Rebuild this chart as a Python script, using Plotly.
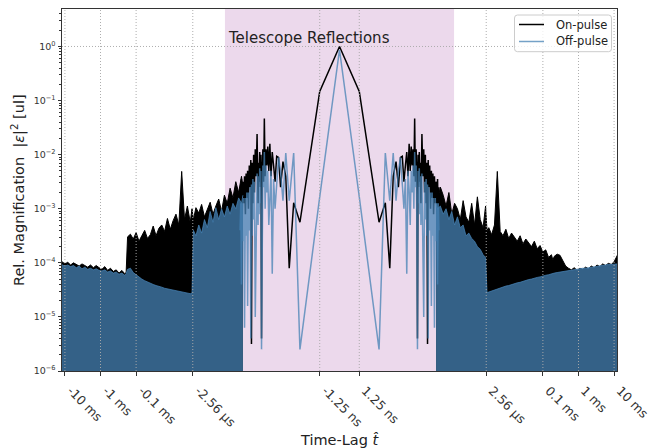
import numpy as np
import plotly.graph_objects as go

# ---------------- data ----------------
SAMPLE_NS = 1.25                     # lag sample spacing [ns]
LINTHRESH = 2.5e-9                    # symlog linear threshold [s]
LINSCALE_ADJ = 1.0 / (1.0 - 0.1)      # symlog linscale=1, base 10

# tick positions (seconds) and labels
tick_times = [-10e-3, -1e-3, -0.1e-3, -2.56e-6, -1.25e-9, 1.25e-9, 2.56e-6, 0.1e-3, 1e-3, 10e-3]
tick_labels = ["-10 ms", "-1 ms", "-0.1 ms", "-2.56 µs", "-1.25 ns", "1.25 ns", "2.56 µs", "0.1 ms", "1 ms", "10 ms"]
reflection_span = [-320e-9, 320e-9]
series_names = ["On-pulse", "Off-pulse"]

# central (sparse) region: sample index k and log10 magnitude (symmetric in lag)
center_k = [0, 1, 2, 3, 4, 5, 6, 7, 8, 9, 10, 11, 12, 13, 14, 15, 16, 17, 18, 19, 20,
            21, 22, 23, 24, 25, 26, 27, 28, 29, 30, 32, 34, 36, 38, 40, 42, 44, 46, 48, 50,
            53, 56, 59, 62, 65, 68, 72, 76, 80, 84, 88, 92, 96]
on_center_log = [0.0, -0.83, -3.25, -2.89, -4.1, -2.4, -2.13, -2.6, -2.05, -2.03, -2.5, -2.2, -1.95, -2.4, -1.8,
                 -2.3, -1.85, -2.2, -1.9, -2.4, -1.33,
                 -2.5, -1.9, -2.3, -5.4, -2.0, -2.6, -1.95, -2.5, -2.15, -2.9, -1.62, -2.4, -1.9, -2.7, -2.0,
                 -2.9, -2.15, -5.5, -2.1, -2.6,
                 -2.2, -3.0, -2.3, -2.8, -2.35, -3.1, -2.4, -2.9, -2.5, -3.1, -2.45, -3.2, -2.6]
off_center_log = [-0.06, -2.78, -5.6, -1.97, -2.85, -1.97, -2.85, -2.3, -2.05, -2.55, -3.0, -2.45, -4.2, -2.3, -2.65,
                  -3.3, -2.3, -2.7, -2.2, -3.0, -1.95,
                  -2.6, -2.2, -3.2, -5.6, -2.3, -2.9, -2.25, -3.1, -2.4, -3.3, -2.35, -3.4, -5.0, -2.5, -3.2,
                  -2.45, -3.5, -2.55, -5.4, -2.6,
                  -3.4, -2.7, -4.8, -2.7, -3.5, -2.8, -5.2, -2.8, -3.6, -2.9, -4.4, -2.9, -3.4]

# dense region: log10 |lag| [s] (outward from centre) and upper envelope log10 magnitude
dense_lag_log10 = [-7.00, -6.96, -6.88, -6.80, -6.72, -6.64, -6.56, -6.48, -6.40, -6.32, -6.24, -6.16, -6.08,
                   -6.00, -5.92, -5.84, -5.76, -5.68, -5.61, -5.57, -5.52, -5.44, -5.36, -5.28, -5.20, -5.12,
                   -5.04, -4.96, -4.88, -4.80, -4.72, -4.64, -4.56, -4.48, -4.40, -4.32, -4.24, -4.16, -4.08,
                   -4.00, -3.92, -3.84, -3.76, -3.72, -3.68, -3.60, -3.52, -3.44, -3.36, -3.28, -3.20, -3.12,
                   -3.04, -2.96, -2.88, -2.80, -2.72, -2.64, -2.56, -2.48, -2.40, -2.32, -2.24, -2.16, -2.08,
                   -2.00, -1.90]
on_left_log = [-2.6, -2.4, -2.7, -2.5, -2.8, -2.62, -2.9, -2.75, -3.05, -2.82, -2.95, -3.1, -2.88,
               -3.0, -3.15, -2.92, -3.08, -2.98, -3.2,
               -3.0, -3.25, -2.95, -3.2, -2.31, -3.3, -3.1, -3.22, -3.38, -3.18, -3.42, -3.3, -3.36,
               -3.5, -3.32, -3.48, -3.55, -3.4, -3.5, -3.6, -3.44, -3.56, -3.47, -3.52,
               -4.18, -4.2, -4.14, -4.19, -4.13, -4.16, -4.1, -4.14, -4.07, -4.12, -4.09, -4.05, -4.09,
               -4.04, -4.08, -4.05, -4.02, -4.06, -4.03, -4.0, -4.04, -3.99, -4.02, -3.97]
off_left_log = [-2.75, -2.9, -2.8, -3.0, -2.9, -3.1, -2.95, -3.15, -3.0, -3.2, -2.98, -3.25, -3.05,
                -3.35, -3.2, -3.45, -3.3, -3.5, -3.4, -4.56, -4.57, -4.56, -4.55, -4.54, -4.53, -4.52,
                -4.5, -4.5, -4.48, -4.47, -4.45, -4.44, -4.42, -4.4, -4.38, -4.36, -4.33, -4.3, -4.26,
                -4.22, -4.18, -4.1, -4.12, -4.2, -4.23, -4.19, -4.21, -4.17, -4.19, -4.15, -4.17, -4.13,
                -4.15, -4.14, -4.11, -4.13, -4.1, -4.12, -4.08, -4.11, -4.06, -4.09, -4.05, -4.07, -4.04,
                -4.06, -4.03]
on_right_log = [-2.5, -2.85, -2.6, -2.75, -2.95, -2.7, -3.1, -2.9, -3.0, -3.2, -2.85, -3.15, -3.25,
                -2.9, -3.3, -2.78, -3.2, -3.35, -2.95,
                -3.4, -3.35, -3.48, -3.3, -2.31, -3.42, -3.5, -3.38, -3.55, -3.45, -3.52, -3.6, -3.5,
                -3.65, -3.56, -3.62, -3.7, -3.6, -3.74, -3.68, -3.8, -3.76, -3.9, -3.85, -3.95, -3.88,
                -3.84, -3.86, -3.97,
                -4.06, -4.1, -4.13, -4.09, -4.14, -4.1, -4.12, -4.08, -4.11, -4.06, -4.09, -4.04, -4.07,
                -4.02, -4.05, -4.01, -4.03, -3.98, -3.85]
off_right_log = [-2.9, -3.0, -2.95, -3.1, -3.0, -3.2, -3.05, -3.3, -3.15, -3.35, -3.3, -3.5, -3.45,
                 -3.55, -3.6, -3.7, -3.75, -3.85, -3.9, -4.55, -4.54, -4.52, -4.5, -4.48, -4.46, -4.45,
                 -4.43, -4.42, -4.4, -4.39, -4.37, -4.36, -4.34, -4.33, -4.31, -4.3, -4.28, -4.27, -4.26,
                 -4.24, -4.23, -4.22, -4.2, -4.2, -4.19, -4.18, -4.17, -4.16, -4.15, -4.14, -4.13, -4.12,
                 -4.12, -4.11, -4.1, -4.1, -4.09, -4.08, -4.07, -4.06, -4.06, -4.05, -4.04, -4.03, -4.03,
                 -4.02, -4.02]

y_tick_exps = [0, -1, -2, -3, -4, -5, -6]

# ---------------- helpers ----------------
def symlog(t):
    t = np.asarray(t, dtype=float)
    a = np.abs(t)
    lin = t / LINTHRESH * LINSCALE_ADJ
    lg = np.sign(t) * (LINSCALE_ADJ + np.log10(np.maximum(a, LINTHRESH) / LINTHRESH))
    return np.where(a <= LINTHRESH, lin, lg)

ON_COLOR = "black"
OFF_COLOR = "rgba(70,130,180,0.75)"
FONT = "DejaVu Sans"
GRID = dict(color="rgba(170,170,170,0.95)", width=1, dash="1px,2px")

k = np.array(center_k, dtype=float)
t_center = np.concatenate([-k[::-1], k[1:]]) * SAMPLE_NS * 1e-9
on_center = 10 ** np.concatenate([np.array(on_center_log)[::-1], np.array(on_center_log)[1:]])
off_center = 10 ** np.concatenate([np.array(off_center_log)[::-1], np.array(off_center_log)[1:]])

dense_t = 10 ** np.array(dense_lag_log10)

fig = go.Figure()

# On-pulse
for sgn, vals in ((-1, on_left_log), (1, on_right_log)):
    fig.add_trace(go.Scatter(x=symlog(sgn * dense_t), y=10 ** np.array(vals), mode="lines",
                             line=dict(color=ON_COLOR, width=1), fill="tozeroy", fillcolor=ON_COLOR,
                             showlegend=False, hoverinfo="skip"))
fig.add_trace(go.Scatter(x=symlog(t_center), y=on_center, mode="lines", name=series_names[0],
                         line=dict(color=ON_COLOR, width=1.5), showlegend=False))
# Off-pulse
for sgn, vals in ((-1, off_left_log), (1, off_right_log)):
    fig.add_trace(go.Scatter(x=symlog(sgn * dense_t), y=10 ** np.array(vals), mode="lines",
                             line=dict(color=OFF_COLOR, width=1), fill="tozeroy", fillcolor=OFF_COLOR,
                             showlegend=False, hoverinfo="skip"))
fig.add_trace(go.Scatter(x=symlog(t_center), y=off_center, mode="lines", name=series_names[1],
                         line=dict(color=OFF_COLOR, width=1.5), showlegend=False))

tick_u = symlog(tick_times)
x_edge = 7.795

# plot-area pixel geometry, used to place the hand-drawn legend box
L, R, T, B, W, H = 62, 47, 9, 77, 664, 448
PW, PH = W - L - R, H - T - B
def px(x):
    return (x - L) / PW
def py(y):
    return 1 - (y - T) / PH

shapes = [dict(type="rect", xref="x", yref="paper", x0=float(symlog(reflection_span[0])),
               x1=float(symlog(reflection_span[1])), y0=0, y1=1,
               fillcolor="rgba(128,0,128,0.15)", line=dict(width=0), layer="below")]
for u in tick_u:
    shapes.append(dict(type="line", xref="x", yref="paper", x0=float(u), x1=float(u), y0=0, y1=1,
                       line=GRID, layer="above"))
shapes.append(dict(type="line", xref="paper", yref="y", x0=0, x1=1, y0=1, y1=1, line=GRID, layer="above"))

# legend box (rounded) with two entries
bx0, bx1, by0, by1 = px(514.5), px(611.5), py(51.7), py(15)
rx, ry = 3 / PW, 3 / PH
legend_path = (f"M{bx0+rx},{by1} L{bx1-rx},{by1} Q{bx1},{by1} {bx1},{by1-ry} L{bx1},{by0+ry} "
               f"Q{bx1},{by0} {bx1-rx},{by0} L{bx0+rx},{by0} Q{bx0},{by0} {bx0},{by0+ry} "
               f"L{bx0},{by1-ry} Q{bx0},{by1} {bx0+rx},{by1} Z")
shapes.append(dict(type="path", xref="paper", yref="paper", path=legend_path,
                   fillcolor="rgba(255,255,255,0.8)", line=dict(color="#cccccc", width=1), layer="above"))
legend_rows = [(24.5, ON_COLOR), (41.5, OFF_COLOR)]
annotations = []
for (ypix, col), name in zip(legend_rows, series_names):
    shapes.append(dict(type="line", xref="paper", yref="paper", x0=px(519), x1=px(544), y0=py(ypix),
                       y1=py(ypix), line=dict(color=col, width=1.5), layer="above"))
    annotations.append(dict(text=name, xref="paper", yref="paper", x=px(553.5), y=py(ypix),
                            xanchor="left", yanchor="middle", showarrow=False,
                            font=dict(size=11.5, family=FONT, color="#222")))

minor_vals = [m * 10.0 ** e for e in range(-6, 1) for m in range(2, 10)]

annotations += [
    dict(text="Telescope Reflections", xref="x", yref="paper",
         x=float(symlog(reflection_span[0])), y=py(37.5), xanchor="left", yanchor="middle",
         xshift=1, showarrow=False, font=dict(size=15, family=FONT, color="#222")),
    dict(text="Time-Lag <i>t\u0302</i>", xref="paper", yref="paper", x=0.5, y=py(440),
         xanchor="center", yanchor="middle", showarrow=False,
         font=dict(size=14.5, family=FONT, color="#222")),
    dict(text="Rel. Magnification  |<i>\u03b5</i>|<sup>2</sup> [ul]", xref="paper", yref="paper",
         x=px(18), y=0.5, xanchor="center", yanchor="middle", textangle=-90, showarrow=False,
         font=dict(size=14.5, family=FONT, color="#222")),
]

fig.update_layout(
    width=W, height=H,
    margin=dict(l=L, r=R, t=T, b=B),
    paper_bgcolor="white", plot_bgcolor="white",
    font=dict(family=FONT, color="#222"),
    shapes=shapes,
    showlegend=False,
    xaxis=dict(range=[-x_edge, x_edge], tickmode="array", tickvals=[float(u) for u in tick_u],
               ticktext=tick_labels, tickangle=45, tickfont=dict(size=12.5, color="#333"),
               ticklabelshift=6, ticklabelstandoff=3,
               showgrid=False, zeroline=False, showline=True, linecolor="#333", linewidth=1,
               mirror=True, ticks="outside", ticklen=3.5, tickcolor="#333"),
    yaxis=dict(type="log", range=[-6, 0.693], tickmode="array",
               tickvals=[10.0 ** e for e in y_tick_exps],
               ticktext=["10<sup>%s</sup>" % (str(e).replace("-", "\u2212")) for e in y_tick_exps],
               tickfont=dict(size=9.5, color="#333"),
               showgrid=False, zeroline=False, showline=True, linecolor="#333", linewidth=1,
               mirror=True, ticks="outside", ticklen=3.5, tickcolor="#333",
               minor=dict(tickmode="array", tickvals=minor_vals, ticks="outside", ticklen=2,
                          tickcolor="#333", showgrid=False)),
    annotations=annotations,
)

fig.write_html("out.html")
